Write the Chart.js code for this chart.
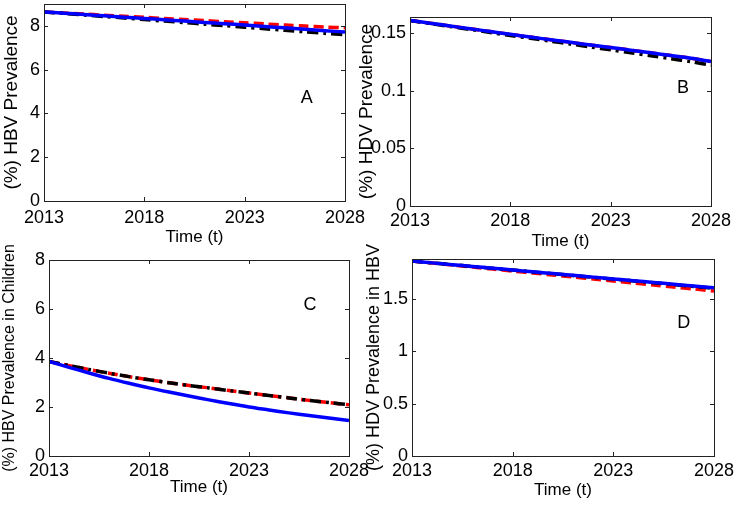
<!DOCTYPE html>
<html><head><meta charset="utf-8">
<script src="https://cdn.jsdelivr.net/npm/chart.js@4.4.0/dist/chart.umd.min.js"></script>
<style>
html,body{margin:0;padding:0;background:#fff;}
#wrap{position:relative;width:737px;height:506px;overflow:hidden;}
#wrap canvas{position:absolute;left:0;top:0;}
</style></head><body>
<div id="wrap">
<canvas id="cA" width="737" height="506"></canvas>
<canvas id="cB" width="737" height="506"></canvas>
<canvas id="cC" width="737" height="506"></canvas>
<canvas id="cD" width="737" height="506"></canvas>
</div>
<script>
// ---- data ----
const years = [2013,2014,2015,2016,2017,2018,2019,2020,2021,2022,2023,2024,2025,2026,2027,2028];
const xTickValues = [2013,2018,2023,2028];

// Panel A: (%) HBV Prevalence
const hbvBlue  = [8.64,8.58,8.52,8.46,8.40,8.34,8.28,8.22,8.16,8.10,8.04,7.97,7.91,7.85,7.78,7.72];
const hbvRed   = [8.64,8.59,8.54,8.49,8.44,8.39,8.34,8.29,8.24,8.19,8.14,8.09,8.04,7.99,7.95,7.91];
const hbvBlack = [8.64,8.57,8.50,8.43,8.36,8.29,8.22,8.15,8.08,8.01,7.94,7.87,7.80,7.73,7.66,7.60];
const hbvTicks = [0,2,4,6,8];

// Panel B: (%) HDV Prevalence
const hdvBlue  = [0.1610,0.1586,0.1562,0.1538,0.1514,0.1490,0.1466,0.1443,0.1420,0.1397,0.1375,0.1352,0.1329,0.1306,0.1282,0.1254];
const hdvRed   = [0.1610,0.1586,0.1562,0.1538,0.1514,0.1490,0.1466,0.1443,0.1420,0.1397,0.1375,0.1352,0.1329,0.1306,0.1282,0.1254];
const hdvBlack = [0.1610,0.1584,0.1558,0.1532,0.1506,0.1480,0.1455,0.1430,0.1405,0.1380,0.1355,0.1330,0.1304,0.1278,0.1252,0.1222];
const hdvTicks = [0,0.05,0.1,0.15];

// Panel C: (%) HBV Prevalence in Children
const chBlue  = [3.86,3.62,3.39,3.17,2.97,2.78,2.61,2.45,2.29,2.14,2.00,1.88,1.76,1.65,1.55,1.45];
const chRed   = [3.86,3.69,3.53,3.38,3.24,3.11,2.99,2.88,2.78,2.67,2.57,2.47,2.37,2.27,2.18,2.09];
const chBlack = [3.86,3.69,3.53,3.38,3.24,3.11,2.99,2.88,2.78,2.67,2.57,2.47,2.37,2.27,2.18,2.09];
const chTicks = [0,2,4,6,8];

// Panel D: (%) HDV Prevalence in HBV
const dBlue  = [1.860,1.843,1.826,1.809,1.792,1.775,1.758,1.741,1.724,1.707,1.690,1.673,1.656,1.639,1.622,1.605];
const dRed   = [1.860,1.841,1.822,1.803,1.784,1.765,1.746,1.727,1.708,1.689,1.670,1.651,1.632,1.613,1.594,1.575];
const dBlack = [1.860,1.843,1.826,1.808,1.791,1.774,1.757,1.740,1.722,1.705,1.688,1.671,1.653,1.636,1.618,1.601];
const dTicks = [0,0.5,1,1.5];

const FONT = '"Liberation Sans", Arial, Helvetica, sans-serif';
const W = 737, H = 506;

const framePlugin = {
  id: 'frame',
  afterDraw(chart, args, opts) {
    const {ctx, chartArea: a, scales} = chart;
    ctx.save();
    ctx.strokeStyle = '#222';
    ctx.lineWidth = 1;
    ctx.beginPath();
    const tl = 4;
    scales.x.ticks.forEach(t => {
      const px = Math.round(scales.x.getPixelForValue(t.value)) + 0.5;
      if (px < a.left + 2 || px > a.right - 2) return;
      ctx.moveTo(px, a.bottom); ctx.lineTo(px, a.bottom - tl);
      ctx.moveTo(px, a.top); ctx.lineTo(px, a.top + tl);
    });
    scales.y.ticks.forEach(t => {
      const py = Math.round(scales.y.getPixelForValue(t.value)) + 0.5;
      if (py < a.top + 2 || py > a.bottom - 2) return;
      ctx.moveTo(a.left, py); ctx.lineTo(a.left + tl, py);
      ctx.moveTo(a.right, py); ctx.lineTo(a.right - tl, py);
    });
    ctx.stroke();
    ctx.strokeRect(Math.round(a.left) + 0.5, Math.round(a.top) + 0.5, Math.round(a.right - a.left), Math.round(a.bottom - a.top));
    if (opts.letter) {
      ctx.fillStyle = '#000';
      ctx.font = '18px ' + FONT;
      ctx.textAlign = 'center';
      ctx.textBaseline = 'middle';
      ctx.fillText(opts.letter, scales.x.getPixelForValue(opts.lx), scales.y.getPixelForValue(opts.ly));
    }
    ctx.restore();
  }
};

function pts(arr) { return years.map((x, i) => ({x, y: arr[i]})); }
function fmt(v) { return String(Number(v.toFixed(3))); }

function panel(id, c) {
  const yFontSize = c.yFont, xFontSize = 17, tickFont = 18;
  const halfY = yFontSize * 1.2 / 2, halfX = xFontSize * 1.2 / 2;
  const padLeft = c.yTitleX - halfY;
  const yW = c.l - padLeft;
  const xH = c.xTitleY - c.b + halfX;
  const padBottom = H - c.b - xH;
  return new Chart(document.getElementById(id), {
    type: 'line',
    data: {
      datasets: [
        {data: pts(c.blue), borderColor: '#0000ff', borderWidth: 3.5, pointRadius: 0, tension: 0.3, fill: false},
        {data: pts(c.black), borderColor: '#000000', borderWidth: 3.5, borderDash: [11,5,3,5], pointRadius: 0, tension: 0.3, fill: false},
        {data: pts(c.red), borderColor: '#ff0000', borderWidth: 3.5, borderDash: [10,5], pointRadius: 0, tension: 0.3, fill: false}
      ]
    },
    options: {
      responsive: false, animation: false, devicePixelRatio: 1,
      layout: {padding: {left: padLeft, right: W - c.r, top: c.t, bottom: padBottom}},
      plugins: {legend: {display: false}, tooltip: {enabled: false}, frame: {letter: c.letter, lx: c.lx, ly: c.ly}},
      scales: {
        x: {
          type: 'linear', min: 2013, max: 2028,
          afterBuildTicks: s => { s.ticks = xTickValues.map(v => ({value: v})); },
          ticks: {font: {family: FONT, size: tickFont}, color: '#000', padding: c.xTickPad, maxRotation: 0, autoSkip: false, callback: v => String(v)},
          grid: {display: false, drawTicks: false},
          border: {display: false},
          title: {display: true, text: 'Time (t)', color: '#000', font: {family: FONT, size: xFontSize}, padding: 0},
          afterFit: s => { s.height = xH; s.paddingLeft = 0; s.paddingRight = 0; s.paddingTop = 0; s.paddingBottom = 0; }
        },
        y: {
          type: 'linear', min: 0, max: c.ymax,
          afterBuildTicks: s => { s.ticks = c.yTicks.map(v => ({value: v})); },
          ticks: {font: {family: FONT, size: tickFont}, color: '#000', padding: 4, autoSkip: false, callback: v => fmt(v)},
          grid: {display: false, drawTicks: false},
          border: {display: false},
          title: {display: true, text: c.yTitle, color: '#000', font: {family: FONT, size: yFontSize}, padding: 0},
          afterFit: s => { s.width = yW; s.paddingLeft = 0; s.paddingRight = 0; s.paddingTop = 0; s.paddingBottom = 0; }
        }
      }
    },
    plugins: [framePlugin]
  });
}

panel('cA', {l: 44, r: 345, t: 4, b: 201, yTitleX: 12, xTitleY: 237, yFont: 19, xTickPad: 6,
  ymax: 9, yTicks: hbvTicks, yTitle: '(%) HBV Prevalence', blue: hbvBlue, red: hbvRed, black: hbvBlack,
  letter: 'A', lx: 2026.1, ly: 4.72});
panel('cB', {l: 410, r: 711, t: 17, b: 206, yTitleX: 367, xTitleY: 241, yFont: 19, xTickPad: 4,
  ymax: 0.164, yTicks: hdvTicks, yTitle: '(%) HDV Prevalence', blue: hdvBlue, red: hdvRed, black: hdvBlack,
  letter: 'B', lx: 2026.6, ly: 0.102});
panel('cC', {l: 49, r: 349, t: 260, b: 456, yTitleX: 10, xTitleY: 487, yFont: 16, xTickPad: 4,
  ymax: 8, yTicks: chTicks, yTitle: '(%) HBV Prevalence in Children', blue: chBlue, red: chRed, black: chBlack,
  letter: 'C', lx: 2026.05, ly: 6.17});
panel('cD', {l: 412, r: 714, t: 259, b: 456, yTitleX: 374, xTitleY: 490, yFont: 18, xTickPad: 4,
  ymax: 1.88, yTicks: dTicks, yTitle: '(%) HDV Prevalence in HBV', blue: dBlue, red: dRed, black: dBlack,
  letter: 'D', lx: 2026.5, ly: 1.273});
</script>
</body></html>
